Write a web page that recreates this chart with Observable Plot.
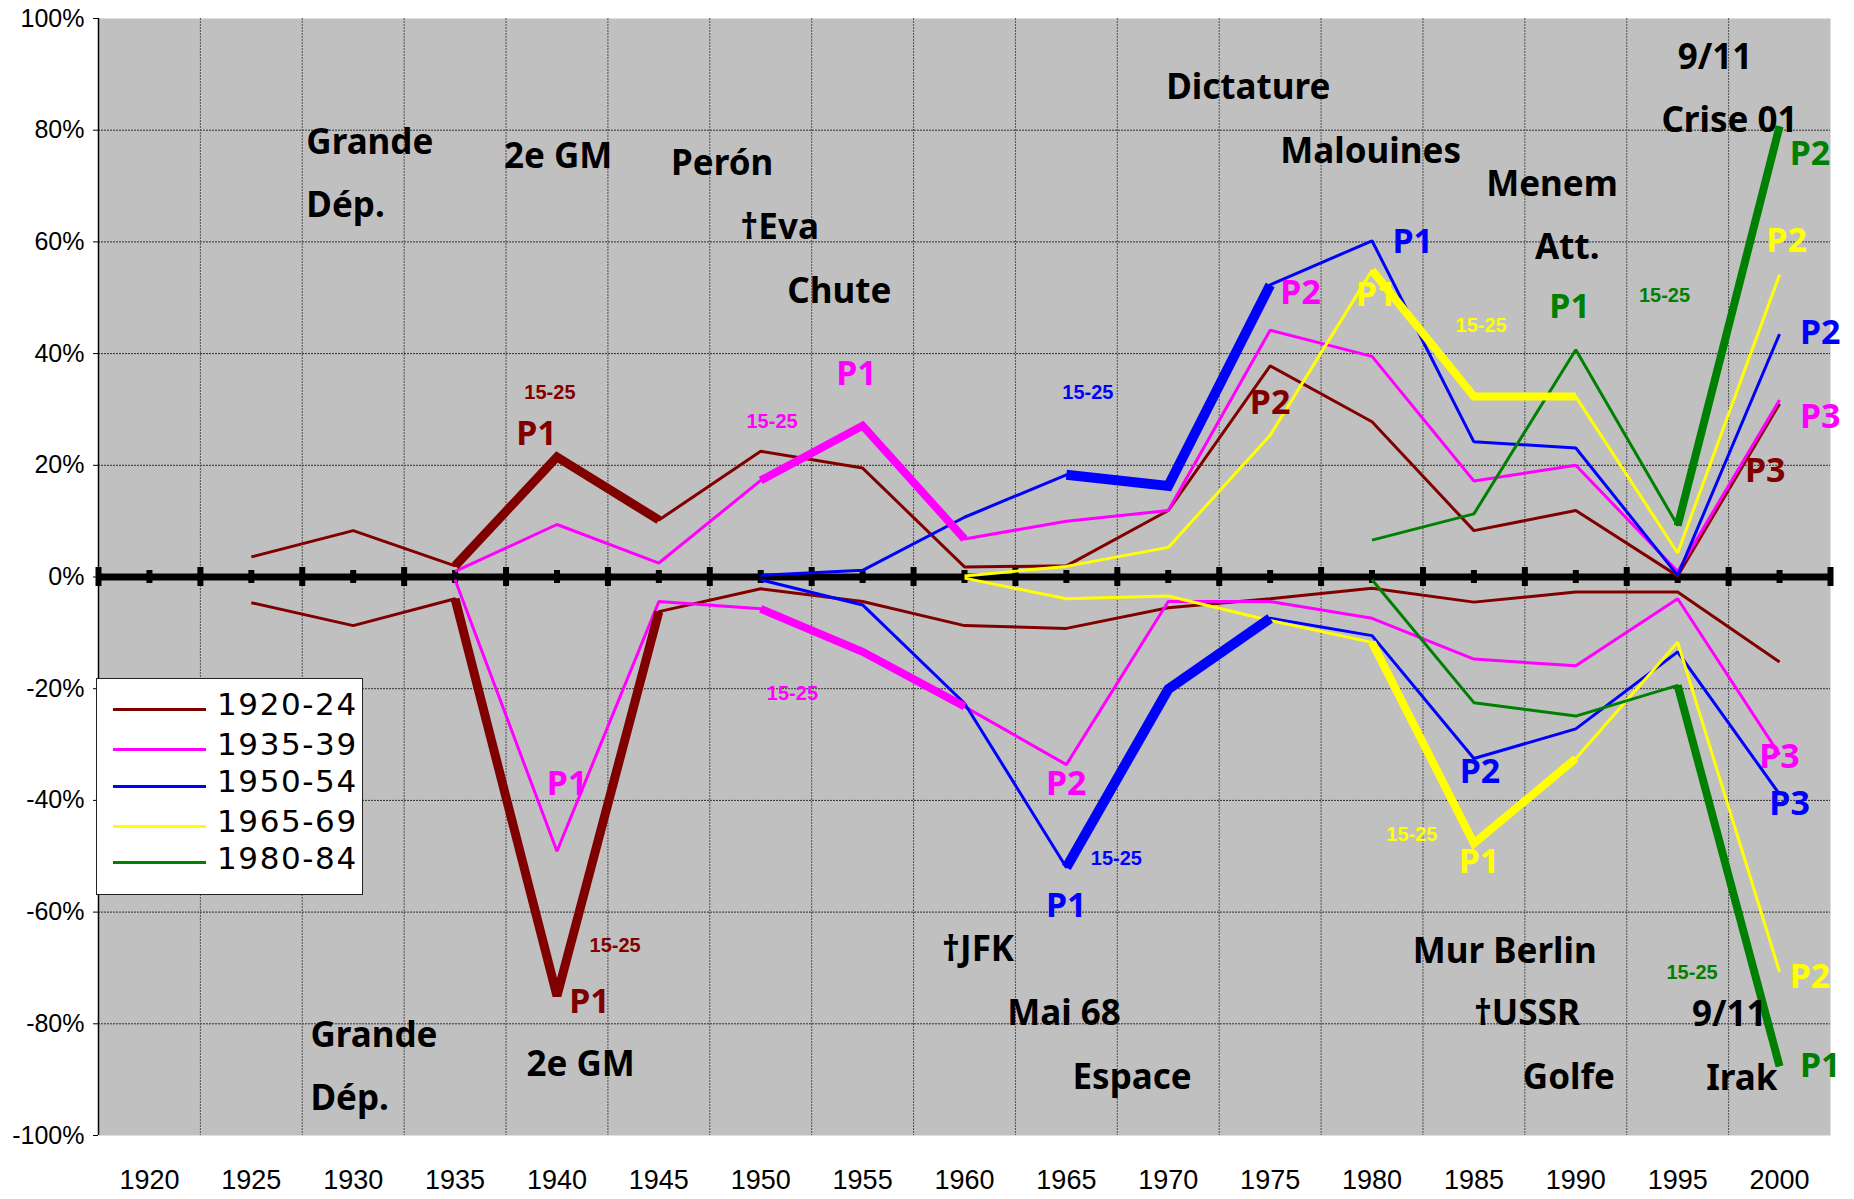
<!DOCTYPE html>
<html><head><meta charset="utf-8">
<script src="https://cdn.jsdelivr.net/npm/d3@7"></script>
<script src="https://cdn.jsdelivr.net/npm/@observablehq/plot@0.6"></script>
<style>
html,body{margin:0;padding:0;background:#fff;}
#wrap{position:relative;width:1854px;height:1199px;overflow:hidden;}
#legend{position:absolute;left:96px;top:678px;width:267px;height:217px;background:#fff;border:1px solid #222;box-sizing:border-box;}
.ln{position:absolute;left:16px;width:93px;height:3px;}
.lt{position:absolute;left:120px;font-family:'Comic Sans MS','DejaVu Sans',sans-serif;font-size:31px;line-height:31px;letter-spacing:1.6px;color:#000;white-space:nowrap;}
</style></head><body>
<div id="wrap"><div id="chart"></div><div id="legend"></div></div>
<script>
// ---------- data ----------
const years = [1920,1925,1930,1935,1940,1945,1950,1955,1960,1965,1970,1975,1980,1985,1990,1995,2000];
const cohorts = ["1920-24","1935-39","1950-54","1965-69","1980-84"];

const up1920   = [null,3.6,8.3,2.0,21.5,10.2,22.5,19.5,1.8,2.0,11.9,37.8,27.8,8.3,11.9,0.2,31.0];
const down1920 = [null,-4.6,-8.7,-3.9,-75.0,-6.2,-2.1,-4.4,-8.7,-9.2,-5.5,-3.9,-2.0,-4.5,-2.7,-2.7,-15.2];
const up1935   = [null,null,null,1.0,9.4,2.5,17.3,27.1,6.8,10.0,11.9,44.2,39.5,17.2,20.0,1.0,31.7];
const down1935 = [null,null,null,-0.5,-49.1,-4.4,-5.7,-13.4,-23.2,-33.6,-4.4,-4.4,-7.4,-14.7,-15.9,-3.9,-31.8];
const up1950   = [null,null,null,null,null,null,0.3,1.2,10.7,18.3,16.3,52.3,60.2,24.2,23.1,0.3,43.5];
const down1950 = [null,null,null,null,null,null,-0.5,-5.0,-22.6,-52.0,-20.1,-7.4,-10.5,-32.5,-27.2,-13.4,-38.9];
const up1965   = [null,null,null,null,null,null,null,null,0.2,1.9,5.3,25.4,54.9,32.3,32.3,4.3,54.1];
const down1965 = [null,null,null,null,null,null,null,null,-0.2,-3.9,-3.4,-7.8,-11.7,-47.7,-32.5,-11.7,-70.7];
const up1980   = [null,null,null,null,null,null,null,null,null,null,null,null,6.6,11.3,40.7,9.2,80.7];
const down1980 = [null,null,null,null,null,null,null,null,null,null,null,null,-0.5,-22.5,-24.9,-19.4,-87.6];

// years during which each cohort is aged 15-25
const youthFrom = [1935,1950,1965,1980,1995];
const youthTo   = [1945,1960,1975,1990,2000];

const yTicks = [-100,-80,-60,-40,-20,0,20,40,60,80,100];

// event notes (black)
const noteText  = ["Grande","Dép.","2e GM","Perón","†Eva","Chute","Dictature","Malouines","Menem","Att.","9/11","Crise 01",
                   "Grande","Dép.","2e GM","†JFK","Mai 68","Espace","Mur Berlin","†USSR","Golfe","9/11","Irak"];
const noteYear  = [1927.7,1927.7,1937.4,1945.6,1949.0,1951.3,1969.9,1975.5,1985.6,1988.0,1995.0,1994.2,
                   1927.9,1927.9,1938.5,1958.9,1962.1,1965.3,1982.0,1985.0,1987.4,1995.7,1996.4];
const noteValue = [77.8,66.5,75.3,73.9,62.6,51.1,87.6,76.2,70.3,59.0,93.0,81.6,
                   -82.1,-93.4,-87.3,-66.7,-78.2,-89.6,-67.1,-78.2,-89.6,-78.3,-89.8];

// period labels (coloured, by cohort index)
const pText   = ["P1","P1","P1","P2","P1","P2","P1","P2","P2","P2","P3","P3",
                 "P1","P1","P2","P1","P2","P1","P3","P3","P2","P1"];
const pCohort = [0,1,2,1,3,0,4,4,3,2,1,0, 1,0,1,2,2,3,1,2,3,4];
const pYear   = [1938.0,1953.7,1981.0,1975.5,1979.2,1974.0,1988.7,2000.5,1999.35,2001.0,2001.0,1998.3,
                 1939.5,1940.6,1964.0,1964.0,1984.3,1984.25,1999.0,1999.5,2000.5,2001.0];
const pValue  = [25.5,36.4,59.9,50.8,50.4,31.2,48.4,75.8,60.1,43.6,28.6,18.9,
                 -37.0,-76.2,-37.0,-59.0,-34.9,-51.1,-32.2,-40.6,-71.7,-87.6];

// "15-25" age labels
const ageText   = "15-25";
const ageCohort = [0,1,2,3,4,0,1,2,3,4];
const ageYear   = [1938.4,1949.3,1964.8,1984.1,1993.1,1941.6,1950.3,1966.2,1980.7,1994.45];
const ageValue  = [33.0,27.8,33.1,45.1,50.4,-66.0,-20.8,-50.4,-46.2,-70.8];

// ---------- styles ----------
const colors = ["#800000","#FF00FF","#0000FF","#FFFF00","#008000"];
const thickW = [9,8,10,8,8];
const comic = "'Comic Sans MS','Noto Sans',sans-serif";
const arial = "'Liberation Sans',Arial,sans-serif";
const legendTop = [30.3,70.3,107,147,183.7];

const ups = [up1920,up1935,up1950,up1965,up1980];
const downs = [down1920,down1935,down1950,down1965,down1980];
const rowsFor = vals => years.map((year,i)=>({year, value: vals[i]})).filter(d=>d.value!=null);

const gridX = d3.range(1922.5, 2000, 5);
const majorTicks = d3.range(1917.5, 2003, 5);
const minorTicks = years;

const lineMarks = [];
cohorts.forEach((c,k)=>{
  for (const vals of [ups[k], downs[k]]) {
    lineMarks.push(Plot.line(rowsFor(vals), {x:"year", y:"value", stroke: colors[k], strokeWidth: 3, strokeLinejoin:"miter", strokeLinecap:"butt"}));
  }
});
cohorts.forEach((c,k)=>{
  for (const vals of [ups[k], downs[k]]) {
    const r = rowsFor(vals).filter(d=>d.year>=youthFrom[k] && d.year<=youthTo[k]);
    lineMarks.push(Plot.line(r, {x:"year", y:"value", stroke: colors[k], strokeWidth: thickW[k], strokeLinejoin:"miter", strokeMiterlimit: 3, strokeLinecap:"butt"}));
  }
});

const notes = noteText.map((t,i)=>({t, x: noteYear[i], y: noteValue[i]}));
const plabels = pText.map((t,i)=>({t, x: pYear[i], y: pValue[i], c: colors[pCohort[i]]}));
const alabels = ageCohort.map((k,i)=>({t: ageText, x: ageYear[i], y: ageValue[i], c: colors[k]}));

const chart = Plot.plot({
  width: 1854, height: 1199,
  marginLeft: 98, marginRight: 24, marginTop: 18, marginBottom: 64,
  style: {background: "white", color: "black", fontFamily: arial, fontSize: "25px"},
  x: {domain: [1917.5, 2002.5], axis: null},
  y: {domain: [-100, 100], ticks: yTicks, tickFormat: d => `${d}%`, tickSize: 5, tickPadding: 9, label: null},
  marks: [
    Plot.frame({fill: "#C0C0C0", stroke: "none"}),
    Plot.ruleY(yTicks.filter(d => d !== 0 && Math.abs(d) !== 100), {stroke: "#303030", strokeWidth: 1, strokeDasharray: "2,1"}),
    Plot.ruleX(gridX, {stroke: "#505050", strokeWidth: 1, strokeDasharray: "2,1"}),
    Plot.ruleY([0], {stroke: "black", strokeWidth: 7}),
    Plot.ruleX(majorTicks, {y1: 0, y2: 0, insetTop: -9.5, insetBottom: -9.5, stroke: "black", strokeWidth: 6}),
    Plot.ruleX(minorTicks, {y1: 0, y2: 0, insetTop: -6.5, insetBottom: -6.5, stroke: "black", strokeWidth: 6}),
    Plot.ruleX([1917.5], {stroke: "black", strokeWidth: 1.5}),
    ...lineMarks,
    Plot.text(years, {x: d => d, y: -100, dy: 45, text: d => String(d), fontSize: 27, fontFamily: arial, fill: "black"}),
    Plot.text(notes, {x: "x", y: "y", text: "t", textAnchor: "start", fontSize: 35, fontWeight: "bold", fontFamily: comic, fill: "black"}),
    Plot.text(plabels, {x: "x", y: "y", text: "t", textAnchor: "start", fontSize: 34, fontWeight: "bold", fontFamily: comic, fill: d => d.c}),
    Plot.text(alabels, {x: "x", y: "y", text: "t", textAnchor: "start", fontSize: 20, fontWeight: "bold", fontFamily: arial, fill: d => d.c})
  ]
});
document.getElementById("chart").appendChild(chart);

// legend
const lg = document.getElementById("legend");
cohorts.forEach((c,k)=>{
  const cy = legendTop[k];
  const ln = document.createElement("div");
  ln.className = "ln"; ln.style.top = (cy-1.5)+"px"; ln.style.background = colors[k];
  const lt = document.createElement("div");
  lt.className = "lt"; lt.style.top = (cy-20)+"px"; lt.textContent = c;
  lg.appendChild(ln); lg.appendChild(lt);
});
</script></body></html>
